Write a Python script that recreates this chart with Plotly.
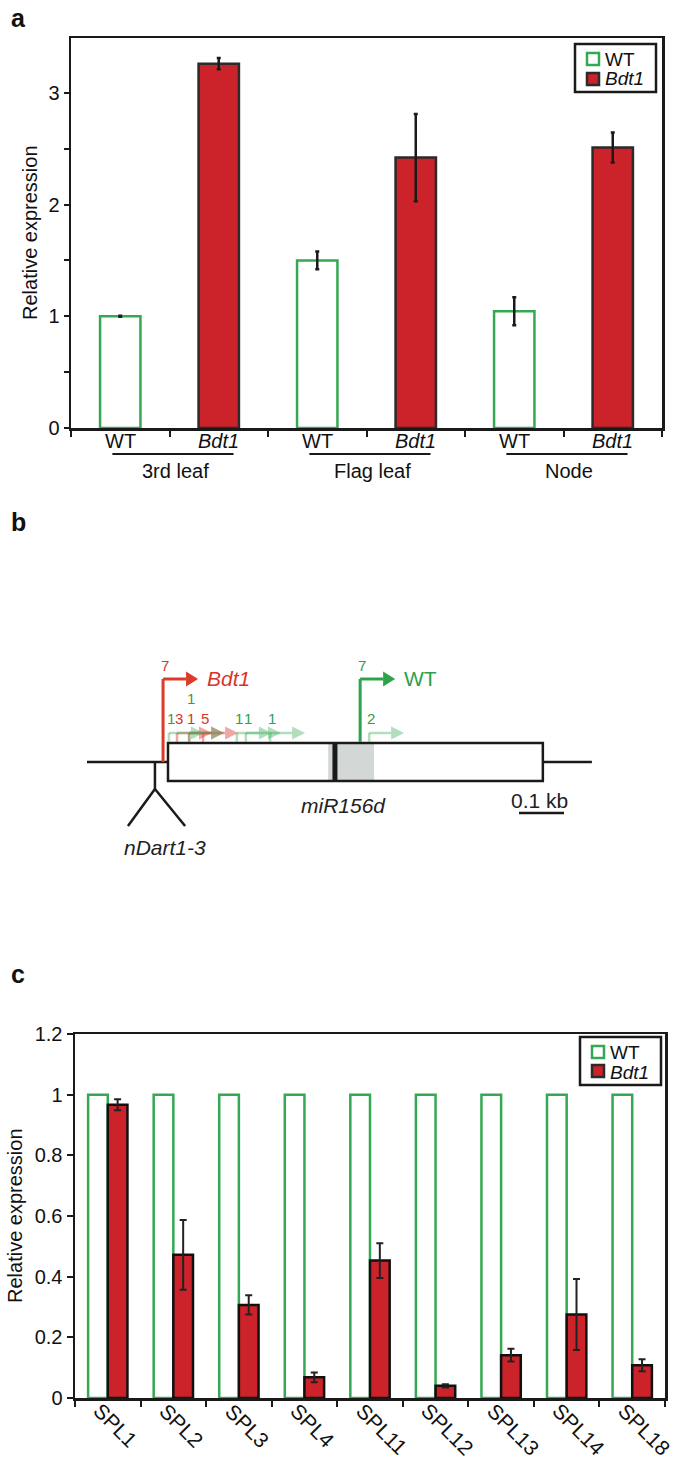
import math
import plotly.graph_objects as go

W, H = 675, 1460

# ---------------- Panel a data ----------------
a_groups = ["3rd leaf", "Flag leaf", "Node"]
a_samples = ["WT", "Bdt1"]
a_wt = [1.0, 1.50, 1.045]
a_wt_err = [0.005, 0.08, 0.125]
a_bdt = [3.26, 2.42, 2.51]
a_bdt_err = [0.05, 0.39, 0.135]
a_yticks = [0, 0.5, 1, 1.5, 2, 2.5, 3]
a_yticklabels = ["0", "", "1", "", "2", "", "3"]

# ---------------- Panel c data ----------------
c_genes = ["SPL1", "SPL2", "SPL3", "SPL4", "SPL11", "SPL12", "SPL13", "SPL14", "SPL18"]
c_wt = [1.0, 1.0, 1.0, 1.0, 1.0, 1.0, 1.0, 1.0, 1.0]
c_bdt = [0.967, 0.472, 0.307, 0.068, 0.453, 0.040, 0.141, 0.275, 0.108]
c_bdt_err = [0.018, 0.115, 0.032, 0.016, 0.057, 0.005, 0.021, 0.117, 0.020]
c_yticks = [0, 0.2, 0.4, 0.6, 0.8, 1.0, 1.2]
c_yticklabels = ["0", "0.2", "0.4", "0.6", "0.8", "1", "1.2"]

# ---------------- Panel b data (bp, relative to transcript start) ----------------
locus_bp = [-180, 942]
gene_bp = [0, 833]
insertion_bp = -29
insertion_legs_bp = [-89, 38]
precursor_bp = [356, 458]
mature_bp = 371
main_tss_bp = [-11, 427]          # Bdt1, WT
main_tss_count = [7, 7]
main_tss_name = ["Bdt1", "WT"]
minor_wt_bp = [2, 47, 153, 173, 227, 447]
minor_wt_count = [1, 1, 1, 1, 1, 2]
minor_wt_row = [0, 1, 0, 0, 0, 0]
minor_bdt_bp = [20, 47, 78]
minor_bdt_count = [3, 1, 5]
scalebar_bp = [780, 880]

legend_names = ["WT", "Bdt1"]

FONT = "Liberation Sans, Arial, Helvetica, sans-serif"
RED = "#cc2229"
GREEN = "#35a853"
DARK = "#1a1a1a"
EDGE = "#2b2b2b"
RED_TXT = "#d8342c"
GREEN_TXT = "#2e9e4c"

def py(p):
    return 1 - p / H

def px(p):
    return p / W

fig = go.Figure()

# ---------------- Panel a ----------------
xa_wt = [2 * i for i in range(len(a_groups))]
xa_bdt = [2 * i + 1 for i in range(len(a_groups))]
fig.add_trace(go.Bar(
    x=xa_wt, y=a_wt, name="WT", width=0.41, offset=-0.205, showlegend=False,
    marker=dict(color="white", line=dict(color=GREEN, width=2.5)),
    error_y=dict(type="data", array=a_wt_err, color=DARK, thickness=2.5, width=2),
    xaxis="x", yaxis="y"))
fig.add_trace(go.Bar(
    x=xa_bdt, y=a_bdt, name="Bdt1", width=0.41, offset=-0.205, showlegend=False,
    marker=dict(color=RED, line=dict(color=EDGE, width=2.5)),
    error_y=dict(type="data", array=a_bdt_err, color=DARK, thickness=2.5, width=2),
    xaxis="x", yaxis="y"))

# ---------------- Panel c ----------------
xc = list(range(len(c_genes)))
fig.add_trace(go.Bar(
    x=xc, y=c_wt, name="WT", width=0.3, offset=-0.3, showlegend=False,
    marker=dict(color="white", line=dict(color=GREEN, width=2.5)),
    xaxis="x2", yaxis="y2"))
fig.add_trace(go.Bar(
    x=xc, y=c_bdt, name="Bdt1", width=0.3, offset=0.0, showlegend=False,
    marker=dict(color=RED, line=dict(color="#111111", width=2.5)),
    error_y=dict(type="data", array=c_bdt_err, color="#222222", thickness=2, width=3.5),
    xaxis="x2", yaxis="y2"))

# ---------------- Panel b (schematic) ----------------
SCALE = 0.45      # px per bp
X0PX = 168        # pixel of bp 0
Y_MAIN, Y_MINOR, BOX_T, BOX_B, Y_LINE = 679, 733, 743, 781, 762
ARR_L = 35 / SCALE
HEAD_L = 13 / SCALE

shapes = []
def seg(x0, y0, x1, y1, color, width):
    shapes.append(dict(type="line", xref="x3", yref="y3", x0=x0, y0=y0, x1=x1, y1=y1,
                       line=dict(color=color, width=width)))

def tri(xtip, y, hl, hh, color):
    path = f"M{xtip - hl},{y - hh} L{xtip},{y} L{xtip - hl},{y + hh} Z"
    shapes.append(dict(type="path", xref="x3", yref="y3", path=path,
                       fillcolor=color, line=dict(color=color, width=0)))

def bent_arrow(p, ybot, ytop, color, width, hl, hh):
    seg(p, ybot, p, ytop, color, width)
    seg(p, ytop, p + ARR_L - hl, ytop, color, width)
    tri(p + ARR_L, ytop, hl, hh, color)

seg(locus_bp[0], Y_LINE, locus_bp[1], Y_LINE, DARK, 2.5)
shapes.append(dict(type="rect", xref="x3", yref="y3", x0=gene_bp[0], x1=gene_bp[1],
                   y0=BOX_T, y1=BOX_B, fillcolor="white", line=dict(width=0)))
shapes.append(dict(type="rect", xref="x3", yref="y3", x0=precursor_bp[0], x1=precursor_bp[1],
                   y0=BOX_T, y1=BOX_B, fillcolor="#d3d7d6", line=dict(width=0)))
seg(mature_bp, BOX_T, mature_bp, BOX_B, DARK, 5)
shapes.append(dict(type="rect", xref="x3", yref="y3", x0=gene_bp[0], x1=gene_bp[1],
                   y0=BOX_T, y1=BOX_B, fillcolor="rgba(0,0,0,0)", line=dict(color=DARK, width=2.5)))
seg(insertion_bp, Y_LINE, insertion_bp, 789, DARK, 2.5)
for leg in insertion_legs_bp:
    seg(insertion_bp, 789, leg, 826, DARK, 2.5)
seg(scalebar_bp[0], 813, scalebar_bp[1], 813, DARK, 2.5)

for p in minor_bdt_bp:
    bent_arrow(p, BOX_T - 1, Y_MINOR, "rgba(220,60,55,0.45)", 2.5, HEAD_L, 6.5)
for p in minor_wt_bp:
    bent_arrow(p, BOX_T - 1, Y_MINOR, "rgba(53,168,83,0.38)", 2.5, HEAD_L, 6.5)

main_colors = ["#dc3b2a", "#2ea34c"]
main_bottoms = [Y_LINE, BOX_T - 1]
for p, c, b in zip(main_tss_bp, main_colors, main_bottoms):
    bent_arrow(p, b, Y_MAIN, c, 3, 12 / SCALE, 7.5)

# ---------------- Annotations ----------------
ann = []
def txt(x, y, text, size, color="#111111", xref="paper", yref="paper", xanchor="center",
        yanchor="middle", angle=0, italic=False, bold=False):
    t = text
    if italic:
        t = f"<i>{t}</i>"
    if bold:
        t = f"<b>{t}</b>"
    ann.append(dict(x=x, y=y, xref=xref, yref=yref, text=t, showarrow=False,
                    xanchor=xanchor, yanchor=yanchor, textangle=angle,
                    font=dict(family=FONT, size=size, color=color)))

txt(px(9), py(2), "a", 25, bold=True, xanchor="left", yanchor="top")
txt(px(9), py(506), "b", 25, bold=True, xanchor="left", yanchor="top")
txt(px(9), py(958), "c", 25, bold=True, xanchor="left", yanchor="top")

txt(px(30), py(233), "Relative expression", 20, angle=-90)
txt(px(15), py(1216), "Relative expression", 20, angle=-90)

# panel a category labels, underline and group labels
for i, g in enumerate(a_groups):
    for j, s in enumerate(a_samples):
        txt(2 * i + j, py(441), s, 20, xref="x", italic=(s == "Bdt1"))
    shapes.append(dict(type="line", xref="x", yref="paper", x0=2 * i - 0.08, x1=2 * i + 1.15,
                       y0=py(454), y1=py(454), line=dict(color=DARK, width=2.2)))
    txt(2 * i + 0.56, py(471), g, 20, xref="x")

# panel c rotated category labels
CHAR_W = {"S": 0.667, "P": 0.667, "L": 0.556}
C_FS = 21
c_left, c_right = 75, 665
step = (c_right - c_left) / len(c_genes)
for i, g in enumerate(c_genes):
    wpx = sum(CHAR_W.get(ch, 0.556) for ch in g) * C_FS
    d = (wpx / 2) / math.sqrt(2)
    cx = c_left + (i + 0.5) * step - 10 + d
    cy = 1407 + d
    txt(px(cx), py(cy), g, C_FS, angle=45)

# panel b labels
for p, n, name, c in zip(main_tss_bp, main_tss_count, main_tss_name,
                         [RED_TXT, GREEN_TXT]):
    txt(p + 2 / SCALE, 665, str(n), 15, color=c, xref="x3", yref="y3")
    txt(p + 42 / SCALE, 678, name, 21, color=c, xref="x3", yref="y3", xanchor="left",
        italic=(name == "Bdt1"))
for p, n in zip(minor_bdt_bp, minor_bdt_count):
    txt(p + 2 / SCALE, 718, str(n), 15, color=RED_TXT, xref="x3", yref="y3")
for p, n, r in zip(minor_wt_bp, minor_wt_count, minor_wt_row):
    txt(p + 2 / SCALE, 718 - 20 * r, str(n), 15, color=GREEN_TXT, xref="x3", yref="y3")
txt((precursor_bp[0] + precursor_bp[1]) / 2 - 16, 805, "miR156d", 21, color="#222222",
    xref="x3", yref="y3", italic=True)
txt(insertion_bp + 22, 847, "nDart1-3", 21, color="#222222", xref="x3", yref="y3", italic=True)
txt((scalebar_bp[0] + scalebar_bp[1]) / 2 - 4, 800, "0.1 kb", 21, color="#222222",
    xref="x3", yref="y3")

# ---------------- manual legends ----------------
def legend_box(x0, y0, x1, y1, sq_x, sq_ys, txt_x, txt_ys):
    shapes.append(dict(type="rect", xref="paper", yref="paper", x0=px(x0), x1=px(x1),
                       y0=py(y1), y1=py(y0), fillcolor="white",
                       line=dict(color=DARK, width=2.5)))
    styles = [("white", GREEN), (RED, EDGE)]
    for (fc, lc), sy, ty, nm in zip(styles, sq_ys, txt_ys, legend_names):
        shapes.append(dict(type="rect", xref="paper", yref="paper",
                           x0=px(sq_x), x1=px(sq_x + 12), y0=py(sy + 12), y1=py(sy),
                           fillcolor=fc, line=dict(color=lc, width=2.5)))
        txt(px(txt_x), py(ty), nm, 19, xanchor="left", italic=(nm == "Bdt1"))

legend_box(575, 44, 656, 92, 587, [53, 73], 603, [59, 79])
legend_box(580, 1037, 661, 1085, 592, [1046, 1065], 608, [1052, 1072])

axis_common = dict(showline=True, linecolor=DARK, linewidth=2.5, mirror=True,
                   showgrid=False, zeroline=False, automargin=False,
                   tickfont=dict(family=FONT, size=20, color="#111111"))

fig.update_layout(
    width=W, height=H,
    margin=dict(l=0, r=0, t=0, b=0),
    paper_bgcolor="white", plot_bgcolor="white",
    barmode="overlay", showlegend=False,
    font=dict(family=FONT, color="#111111"),
    xaxis=dict(domain=[px(71), px(662)], range=[-0.5, 5.5], anchor="y",
               tickvals=[i - 0.5 for i in range(7)], showticklabels=False,
               ticks="outside", ticklen=6, tickwidth=2, tickcolor=DARK,
               **axis_common),
    yaxis=dict(domain=[py(428), py(38)], range=[0, 3.49], anchor="x",
               tickvals=a_yticks, ticktext=a_yticklabels,
               ticks="outside", ticklen=5, tickwidth=2, tickcolor=DARK,
               **axis_common),
    xaxis2=dict(domain=[px(c_left), px(c_right)], range=[-0.5, 8.5], anchor="y2",
                tickvals=[i - 0.5 for i in range(10)], showticklabels=False,
                ticks="outside", ticklen=6, tickwidth=2, tickcolor=DARK,
                **axis_common),
    yaxis2=dict(domain=[py(1398), py(1034)], range=[0, 1.2], anchor="x2",
                tickvals=c_yticks, ticktext=c_yticklabels,
                ticks="outside", ticklen=6, tickwidth=2, tickcolor=DARK,
                **axis_common),
    xaxis3=dict(domain=[0, 1], range=[-X0PX / SCALE, (W - X0PX) / SCALE], anchor="y3",
                visible=False, fixedrange=True),
    yaxis3=dict(domain=[py(900), py(600)], range=[900, 600], anchor="x3",
                visible=False, fixedrange=True),
    shapes=shapes,
    annotations=ann,
)

fig.write_html(
    "out.html",
    config={"displayModeBar": False, "staticPlot": True},
    post_script="document.body.style.margin='0';document.body.style.overflow='hidden';",
)
